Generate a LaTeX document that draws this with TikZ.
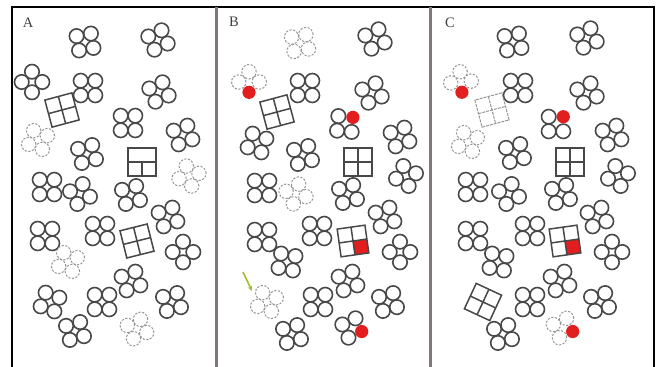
\documentclass[tikz,border=0pt]{standalone}
\usepackage{fontspec}
\setmainfont{Liberation Serif}
\usetikzlibrary{arrows.meta}
\definecolor{circ}{RGB}{72,72,72}
\definecolor{faint}{RGB}{150,150,150}
\definecolor{redc}{RGB}{226,30,30}
\definecolor{divc}{RGB}{128,120,118}
\definecolor{grn}{RGB}{160,190,50}
\tikzset{
  sol/.style={draw=circ, line width=1.6pt},
  dsh/.style={draw=faint, line width=1pt, dash pattern=on 2.2pt off 1.5pt},
  sqs/.style={draw=circ, line width=1.5pt},
  sqf/.style={draw=faint, line width=1pt, dash pattern=on 3pt off 1pt},
  lab/.style={font=\fontsize{14.5}{16}\selectfont, text=black!75, inner sep=0pt},
}
\newcommand\clu[4]{%
  \foreach \k in {45,135,225,315}{%
    \draw[#4] (#1,#2) ++({\k+(#3)}:10.3) circle[radius=7.2pt];
  }}
\newcommand\clur[5]{%
  \foreach \k in {45,135,225,315}{%
    \ifnum\k=#5\relax
      \fill[redc] (#1,#2) ++({\k+(#3)}:10.3) circle[radius=6.6pt];
    \else
      \draw[#4] (#1,#2) ++({\k+(#3)}:10.3) circle[radius=7.2pt];
    \fi
  }}
\newcommand\gsq[4]{%
  \begin{scope}[shift={(#1,#2)},rotate={-(#3)}]
    \draw[#4] (-14,-14) rectangle (14,14) (0,-14)--(0,14) (-14,0)--(14,0);
  \end{scope}}
\newcommand\gsqr[4]{%
  \begin{scope}[shift={(#1,#2)},rotate={-(#3)}]
    \fill[redc] (0,0) rectangle (14,14);
    \draw[#4] (-14,-14) rectangle (14,14) (0,-14)--(0,14) (-14,0)--(14,0);
  \end{scope}}
\begin{document}
\begin{tikzpicture}[x=1pt,y=-1pt]
\useasboundingbox (0,0) rectangle (659,367);
\fill[white] (0,0) rectangle (659,367);
% frame
\draw[black, line width=1.2pt] (12,367) -- (12,7) -- (654,7) -- (654,367);
\draw[divc, line width=2.2pt] (216.5,7) -- (216.5,367);
\draw[divc, line width=2.2pt] (430.5,7) -- (430.5,367);
% labels
\node[lab] (la) at (28,23) {A};
\node[lab] (lb) at (234,22) {B};
\node[lab] (lc) at (450,23) {C};
% ---------- Panel A
\clu{85}{42}{-10}{sol}
\clu{158}{40}{-25}{sol}
\clu{32}{82}{45}{sol}
\clu{88}{88}{0}{sol}
\clu{159}{92}{-25}{sol}
\gsq{62}{110}{-15}{sqs}
\clu{128}{123}{0}{sol}
\clu{183}{135}{-20}{sol}
\clu{38}{140}{20}{dsh}
\clu{87}{154}{-15}{sol}
\draw[sqs] (128,148) rectangle (156,176) (128,162) -- (156,162) (142,162) -- (142,176);
\clu{189}{176}{30}{dsh}
\clu{47}{187}{0}{sol}
\clu{80}{194}{-30}{sol}
\clu{131}{195}{-15}{sol}
\clu{168}{217}{-20}{sol}
\clu{45}{236}{0}{sol}
\clu{100}{231}{0}{sol}
\gsq{137}{241}{-14}{sqs}
\clu{183}{252}{45}{sol}
\clu{68}{262}{20}{dsh}
\clu{131}{281}{-20}{sol}
\clu{50}{302}{20}{sol}
\clu{102}{302}{0}{sol}
\clu{172}{302}{-15}{sol}
\clu{75}{331}{-15}{sol}
\clu{137}{329}{-25}{dsh}
% ---------- Panel B
\clu{300}{43}{-10}{dsh}
\clu{375}{39}{-25}{sol}
\clur{249}{82}{45}{dsh}{45}
\clu{305}{88}{0}{sol}
\clu{372}{93}{-25}{sol}
\gsq{277}{112}{-15}{sqs}
\clur{345}{124}{5}{sol}{315}
\clu{400}{137}{-20}{sol}
\clu{257}{143}{20}{sol}
\clu{303}{155}{-15}{sol}
\gsq{358}{162}{0}{sqs}
\clu{406}{176}{30}{sol}
\clu{262}{188}{0}{sol}
\clu{296}{194}{-30}{dsh}
\clu{348}{194}{-15}{sol}
\clu{385}{217}{-20}{sol}
\clu{262}{237}{0}{sol}
\clu{317}{231}{0}{sol}
\gsqr{353}{241}{-8}{sqs}
\clu{400}{252}{45}{sol}
\clu{287}{262}{10}{sol}
\clu{348}{281}{-20}{sol}
\clu{267}{302}{20}{dsh}
\clu{318}{302}{0}{sol}
\clu{388}{302}{-15}{sol}
\clu{292}{334}{-15}{sol}
\clur{352}{328}{-25}{sol}{45}
\coordinate (ga1) at (243,272);
\coordinate (ga2) at (252,291);
\draw[grn, line width=1.6pt, -{Stealth[length=5pt,width=4.5pt]}] (ga1) -- (ga2);
% ---------- Panel C
\clu{513}{42}{-10}{sol}
\clu{587}{38}{-25}{sol}
\clur{461}{82}{40}{dsh}{45}
\clu{518}{88}{0}{sol}
\clu{587}{93}{-25}{sol}
\gsq{492}{110}{-15}{sqf}
\clur{556}{124}{0}{sol}{315}
\clu{612}{135}{-20}{sol}
\clu{468}{142}{20}{dsh}
\clu{515}{153}{-15}{sol}
\gsq{570}{162}{0}{sqs}
\clu{618}{176}{30}{sol}
\clu{473}{187}{0}{sol}
\clu{509}{194}{-30}{sol}
\clu{561}{194}{-15}{sol}
\clu{597}{217}{-20}{sol}
\clu{473}{236}{0}{sol}
\clu{530}{231}{0}{sol}
\gsqr{565}{241}{-8}{sqs}
\clu{612}{252}{45}{sol}
\clu{498}{262}{10}{sol}
\clu{560}{281}{-20}{sol}
\gsq{483}{302}{25}{sqs}
\clu{530}{302}{0}{sol}
\clu{600}{302}{-15}{sol}
\clu{503}{334}{-15}{sol}
\clur{563}{328}{-25}{dsh}{45}
\end{tikzpicture}
\end{document}
